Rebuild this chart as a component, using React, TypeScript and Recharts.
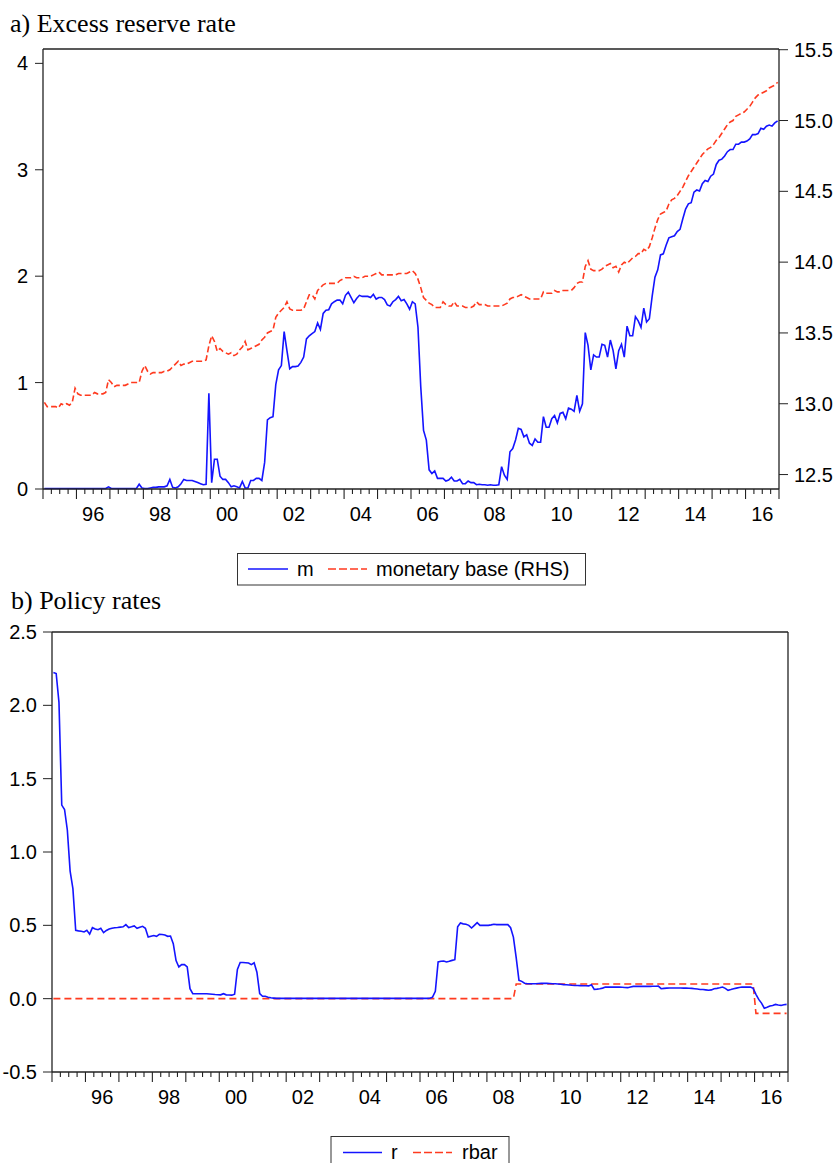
import React from 'react';
import { LineChart, Line, XAxis, YAxis, ReferenceLine } from 'recharts';

const FIRST_YEAR = 1995;
const LAST_YEAR = 2017;

// excess reserve rate, monthly 1995M1 - 2016M12 (left axis)
const m: number[] = [
  0.005, 0.005, 0.005, 0.005, 0.005, 0.005, 0.005, 0.005, 0.005, 0.005, 0.005, 0.005, // 1995
  0.005, 0.005, 0.005, 0.005, 0.005, 0.005, 0.005, 0.005, 0.005, 0.005, 0.005, 0.02, // 1996
  0.005, 0.005, 0.005, 0.005, 0.005, 0.005, 0.005, 0.005, 0.005, 0.005, 0.045, 0.01, // 1997
  0.005, 0.005, 0.01, 0.015, 0.015, 0.02, 0.02, 0.02, 0.03, 0.09, 0.015, 0.01, // 1998
  0.02, 0.05, 0.09, 0.08, 0.08, 0.08, 0.07, 0.06, 0.05, 0.04, 0.045, 0.9, // 1999
  0.06, 0.28, 0.28, 0.12, 0.09, 0.09, 0.06, 0.02, 0.03, 0.02, 0.01, 0.07, // 2000
  0.01, 0.01, 0.08, 0.08, 0.1, 0.1, 0.08, 0.25, 0.65, 0.67, 0.68, 0.98, // 2001
  1.12, 1.16, 1.48, 1.3, 1.13, 1.15, 1.15, 1.155, 1.19, 1.24, 1.41, 1.44, // 2002
  1.46, 1.48, 1.56, 1.5, 1.65, 1.68, 1.685, 1.74, 1.76, 1.775, 1.775, 1.74, // 2003
  1.82, 1.85, 1.8, 1.75, 1.79, 1.82, 1.81, 1.81, 1.81, 1.8, 1.83, 1.785, // 2004
  1.8, 1.8, 1.78, 1.73, 1.72, 1.76, 1.78, 1.81, 1.77, 1.78, 1.74, 1.69, // 2005
  1.76, 1.74, 1.52, 0.96, 0.55, 0.46, 0.18, 0.145, 0.17, 0.1, 0.1, 0.1, // 2006
  0.075, 0.085, 0.11, 0.075, 0.075, 0.09, 0.05, 0.05, 0.075, 0.06, 0.06, 0.04, // 2007
  0.045, 0.04, 0.04, 0.035, 0.04, 0.035, 0.035, 0.04, 0.21, 0.13, 0.09, 0.35, // 2008
  0.38, 0.46, 0.57, 0.56, 0.49, 0.51, 0.43, 0.41, 0.47, 0.44, 0.44, 0.68, // 2009
  0.58, 0.58, 0.66, 0.69, 0.62, 0.71, 0.72, 0.66, 0.76, 0.75, 0.73, 0.88, // 2010
  0.73, 0.8, 1.47, 1.35, 1.12, 1.26, 1.24, 1.24, 1.36, 1.35, 1.24, 1.4, // 2011
  1.3, 1.13, 1.3, 1.36, 1.24, 1.53, 1.44, 1.44, 1.62, 1.58, 1.52, 1.7, // 2012
  1.57, 1.6, 1.81, 1.99, 2.06, 2.2, 2.21, 2.29, 2.36, 2.37, 2.38, 2.42, // 2013
  2.44, 2.54, 2.63, 2.68, 2.69, 2.79, 2.81, 2.8, 2.87, 2.9, 2.89, 2.94, // 2014
  2.96, 3.05, 3.09, 3.1, 3.13, 3.17, 3.19, 3.19, 3.24, 3.24, 3.26, 3.26, // 2015
  3.27, 3.29, 3.33, 3.33, 3.34, 3.39, 3.38, 3.41, 3.42, 3.41, 3.44, 3.46, // 2016
];

// monetary base (RHS)
const monetaryBase: number[] = [
  13.01, 12.98, 12.98, 12.98, 12.98, 12.97, 13.0, 12.99, 13.0, 12.99, 13.01, 13.11, // 1995
  13.07, 13.06, 13.06, 13.06, 13.06, 13.06, 13.08, 13.07, 13.07, 13.07, 13.08, 13.17, // 1996
  13.15, 13.12, 13.13, 13.13, 13.13, 13.13, 13.14, 13.15, 13.15, 13.15, 13.15, 13.23, // 1997
  13.27, 13.23, 13.21, 13.22, 13.22, 13.22, 13.22, 13.23, 13.23, 13.24, 13.26, 13.28, // 1998
  13.3, 13.27, 13.28, 13.28, 13.29, 13.3, 13.3, 13.3, 13.3, 13.3, 13.31, 13.41, // 1999
  13.48, 13.44, 13.37, 13.39, 13.37, 13.36, 13.35, 13.36, 13.34, 13.35, 13.38, 13.4, // 2000
  13.44, 13.38, 13.39, 13.4, 13.41, 13.42, 13.45, 13.47, 13.5, 13.51, 13.52, 13.61, // 2001
  13.64, 13.66, 13.68, 13.72, 13.67, 13.66, 13.66, 13.66, 13.66, 13.67, 13.72, 13.77, // 2002
  13.77, 13.74, 13.8, 13.82, 13.84, 13.85, 13.85, 13.85, 13.85, 13.85, 13.87, 13.88, // 2003
  13.89, 13.89, 13.89, 13.9, 13.89, 13.89, 13.89, 13.9, 13.9, 13.9, 13.91, 13.92, // 2004
  13.93, 13.91, 13.91, 13.91, 13.91, 13.91, 13.91, 13.92, 13.92, 13.92, 13.92, 13.93, // 2005
  13.94, 13.92, 13.88, 13.82, 13.75, 13.73, 13.71, 13.7, 13.68, 13.68, 13.68, 13.72, // 2006
  13.7, 13.69, 13.69, 13.72, 13.69, 13.69, 13.69, 13.68, 13.68, 13.68, 13.69, 13.72, // 2007
  13.7, 13.7, 13.7, 13.69, 13.69, 13.69, 13.69, 13.69, 13.69, 13.7, 13.71, 13.74, // 2008
  13.75, 13.75, 13.76, 13.77, 13.76, 13.75, 13.74, 13.74, 13.74, 13.74, 13.74, 13.79, // 2009
  13.78, 13.78, 13.78, 13.8, 13.79, 13.79, 13.8, 13.8, 13.8, 13.8, 13.82, 13.85, // 2010
  13.86, 13.86, 13.97, 14.01, 13.95, 13.94, 13.94, 13.94, 13.95, 13.97, 13.98, 13.99, // 2011
  13.96, 13.97, 13.93, 13.98, 14.0, 13.99, 14.01, 14.03, 14.04, 14.06, 14.06, 14.09, // 2012
  14.08, 14.11, 14.17, 14.24, 14.3, 14.34, 14.35, 14.36, 14.41, 14.44, 14.45, 14.47, // 2013
  14.5, 14.53, 14.57, 14.61, 14.64, 14.67, 14.7, 14.73, 14.76, 14.78, 14.8, 14.81, // 2014
  14.83, 14.86, 14.88, 14.91, 14.94, 14.97, 14.99, 15.0, 15.03, 15.04, 15.05, 15.06, // 2015
  15.08, 15.1, 15.13, 15.16, 15.18, 15.19, 15.2, 15.21, 15.23, 15.24, 15.25, 15.27, // 2016
];

// policy rate r
const r: number[] = [
  2.224, 2.217, 2.02, 1.32, 1.29, 1.15, 0.87, 0.75, 0.466, 0.462, 0.46, 0.455, // 1995
  0.466, 0.44, 0.484, 0.475, 0.47, 0.48, 0.45, 0.465, 0.475, 0.48, 0.483, 0.485, // 1996
  0.488, 0.49, 0.505, 0.485, 0.49, 0.496, 0.48, 0.487, 0.493, 0.48, 0.42, 0.425, // 1997
  0.43, 0.425, 0.438, 0.437, 0.434, 0.425, 0.427, 0.375, 0.26, 0.216, 0.232, 0.232, // 1998
  0.216, 0.068, 0.034, 0.034, 0.034, 0.034, 0.034, 0.034, 0.032, 0.03, 0.028, 0.027, // 1999
  0.026, 0.034, 0.026, 0.025, 0.024, 0.03, 0.2, 0.247, 0.247, 0.245, 0.243, 0.232, // 2000
  0.245, 0.18, 0.034, 0.016, 0.016, 0.01, 0.006, 0.004, 0.002, 0.002, 0.002, 0.002, // 2001
  0.002, 0.002, 0.002, 0.002, 0.002, 0.002, 0.002, 0.002, 0.002, 0.002, 0.002, 0.002, // 2002
  0.002, 0.002, 0.002, 0.002, 0.002, 0.002, 0.002, 0.002, 0.002, 0.002, 0.002, 0.002, // 2003
  0.002, 0.002, 0.002, 0.002, 0.002, 0.002, 0.002, 0.002, 0.002, 0.002, 0.002, 0.002, // 2004
  0.002, 0.002, 0.002, 0.002, 0.002, 0.002, 0.002, 0.002, 0.002, 0.002, 0.002, 0.002, // 2005
  0.002, 0.002, 0.002, 0.003, 0.01, 0.05, 0.25, 0.255, 0.257, 0.25, 0.255, 0.261, // 2006
  0.266, 0.49, 0.516, 0.51, 0.507, 0.5, 0.482, 0.5, 0.518, 0.5, 0.5, 0.5, // 2007
  0.5, 0.503, 0.507, 0.505, 0.505, 0.505, 0.505, 0.505, 0.484, 0.42, 0.28, 0.125, // 2008
  0.118, 0.105, 0.102, 0.102, 0.102, 0.102, 0.103, 0.104, 0.104, 0.104, 0.103, 0.102, // 2009
  0.102, 0.1, 0.098, 0.096, 0.095, 0.093, 0.091, 0.09, 0.09, 0.089, 0.088, 0.088, // 2010
  0.087, 0.095, 0.063, 0.065, 0.068, 0.072, 0.079, 0.079, 0.079, 0.079, 0.079, 0.079, // 2011
  0.078, 0.076, 0.075, 0.08, 0.084, 0.084, 0.084, 0.084, 0.084, 0.084, 0.084, 0.085, // 2012
  0.085, 0.086, 0.068, 0.07, 0.072, 0.073, 0.073, 0.073, 0.073, 0.073, 0.072, 0.072, // 2013
  0.071, 0.07, 0.068, 0.066, 0.063, 0.062, 0.06, 0.057, 0.06, 0.068, 0.07, 0.074, // 2014
  0.079, 0.07, 0.057, 0.062, 0.068, 0.072, 0.076, 0.079, 0.079, 0.079, 0.079, 0.07, // 2015
  0.03, -0.005, -0.03, -0.065, -0.058, -0.05, -0.046, -0.039, -0.043, -0.046, -0.042, -0.039, // 2016
];

// policy rate target rbar
const rbar: number[] = [
  0, 0, 0, 0, 0, 0, 0, 0, 0, 0, 0, 0, // 1995
  0, 0, 0, 0, 0, 0, 0, 0, 0, 0, 0, 0, // 1996
  0, 0, 0, 0, 0, 0, 0, 0, 0, 0, 0, 0, // 1997
  0, 0, 0, 0, 0, 0, 0, 0, 0, 0, 0, 0, // 1998
  0, 0, 0, 0, 0, 0, 0, 0, 0, 0, 0, 0, // 1999
  0, 0, 0, 0, 0, 0, 0, 0, 0, 0, 0, 0, // 2000
  0, 0, 0, 0, 0, 0, 0, 0, 0, 0, 0, 0, // 2001
  0, 0, 0, 0, 0, 0, 0, 0, 0, 0, 0, 0, // 2002
  0, 0, 0, 0, 0, 0, 0, 0, 0, 0, 0, 0, // 2003
  0, 0, 0, 0, 0, 0, 0, 0, 0, 0, 0, 0, // 2004
  0, 0, 0, 0, 0, 0, 0, 0, 0, 0, 0, 0, // 2005
  0, 0, 0, 0, 0, 0, 0, 0, 0, 0, 0, 0, // 2006
  0, 0, 0, 0, 0, 0, 0, 0, 0, 0, 0, 0, // 2007
  0, 0, 0, 0, 0, 0, 0, 0, 0, 0, 0.1, 0.1, // 2008
  0.1, 0.1, 0.1, 0.1, 0.1, 0.1, 0.1, 0.1, 0.1, 0.1, 0.1, 0.1, // 2009
  0.1, 0.1, 0.1, 0.1, 0.1, 0.1, 0.1, 0.1, 0.1, 0.1, 0.1, 0.1, // 2010
  0.1, 0.1, 0.1, 0.1, 0.1, 0.1, 0.1, 0.1, 0.1, 0.1, 0.1, 0.1, // 2011
  0.1, 0.1, 0.1, 0.1, 0.1, 0.1, 0.1, 0.1, 0.1, 0.1, 0.1, 0.1, // 2012
  0.1, 0.1, 0.1, 0.1, 0.1, 0.1, 0.1, 0.1, 0.1, 0.1, 0.1, 0.1, // 2013
  0.1, 0.1, 0.1, 0.1, 0.1, 0.1, 0.1, 0.1, 0.1, 0.1, 0.1, 0.1, // 2014
  0.1, 0.1, 0.1, 0.1, 0.1, 0.1, 0.1, 0.1, 0.1, 0.1, 0.1, 0.1, // 2015
  -0.1, -0.1, -0.1, -0.1, -0.1, -0.1, -0.1, -0.1, -0.1, -0.1, -0.1, -0.1, // 2016
];

const labelYears = [1996, 1998, 2000, 2002, 2004, 2006, 2008, 2010, 2012, 2014, 2016];
const yearLabels = ['96', '98', '00', '02', '04', '06', '08', '10', '12', '14', '16'];
const mTicks = [0, 1, 2, 3, 4];
const baseTicks = [12.5, 13, 13.5, 14, 14.5, 15, 15.5];
const rateTicks = [-0.5, 0, 0.5, 1, 1.5, 2, 2.5];

const M_DOMAIN = [0, 4.135];
const BASE_DOMAIN = [12.398, 15.505];
const RATE_DOMAIN = [-0.5, 2.5];

// quarter tick marks along the time axis
const quarterTicks: number[] = [];
for (let q = 0; q <= (LAST_YEAR - FIRST_YEAR) * 4; q++) quarterTicks.push(FIRST_YEAR + q / 4);

// observations sit in the middle of their month
const monthPos = (i: number) => FIRST_YEAR + (i + 0.5) / 12;
const topData = m.map((v, i) => ({ t: monthPos(i), m: v, mb: monetaryBase[i] }));
const bottomData = r.map((v, i) => ({ t: monthPos(i), r: v, rbar: rbar[i] }));

const BLUE = '#1414ff';
const RED = '#ff3a1f';
const AXIS = '#222';
const SANS = '"Liberation Sans", Arial, sans-serif';
const SERIF = '"Liberation Serif", "Times New Roman", serif';
const TICK_FONT = 20;

const DateTick = (props: any) => {
  const { x, y, payload } = props;
  const v: number = payload.value;
  const year = Math.floor(v + 1e-9);
  const isYear = Math.abs(v - year) < 1e-6;
  const idx = labelYears.indexOf(year);
  const showLabel = idx >= 0 && Math.abs(v - year - 0.5) < 1e-6;
  return (
    <g>
      <line x1={x} x2={x} y1={y} y2={y + (isYear ? 10 : 5)} stroke={AXIS} strokeWidth={1.1} />
      {showLabel && (
        <text x={x} y={y + 32} textAnchor="middle" fontSize={TICK_FONT} fontFamily={SANS} fill="#000">
          {yearLabels[idx]}
        </text>
      )}
    </g>
  );
};

const tickStyle = { fontSize: TICK_FONT, fill: '#000', fontFamily: SANS };
const axisLine = { stroke: AXIS, strokeWidth: 1.3 };

const timeAxis = (
  <XAxis
    type="number"
    dataKey="t"
    domain={[FIRST_YEAR, LAST_YEAR]}
    ticks={quarterTicks}
    interval={0}
    tick={<DateTick />}
    tickLine={false}
    tickSize={0}
    tickMargin={0}
    height={30}
    axisLine={axisLine}
  />
);

const App = () => (
  <div style={{ position: 'absolute', left: 0, top: 0, width: 837, height: 1163, background: '#fff', overflow: 'hidden' }}>
    <div style={{ position: 'absolute', left: 0, top: 0 }}>
      <LineChart width={837} height={530} data={topData} margin={{ top: 49, right: 0, bottom: 11, left: 0 }}>
        {timeAxis}
        <YAxis
          yAxisId="left"
          type="number"
          domain={M_DOMAIN}
          ticks={mTicks}
          width={43}
          tickSize={8}
          tickMargin={7}
          tick={tickStyle}
          tickLine={{ stroke: AXIS }}
          axisLine={axisLine}
        />
        <YAxis
          yAxisId="right"
          orientation="right"
          type="number"
          domain={BASE_DOMAIN}
          ticks={baseTicks}
          tickFormatter={(v: number) => v.toFixed(1)}
          width={58}
          tickSize={9}
          tickMargin={6}
          tick={tickStyle}
          tickLine={{ stroke: AXIS }}
          axisLine={axisLine}
        />
        <ReferenceLine yAxisId="left" y={M_DOMAIN[1]} stroke={AXIS} strokeWidth={1.3} />
        <Line yAxisId="right" dataKey="mb" stroke={RED} strokeWidth={1.6} strokeDasharray="6 3" dot={false} isAnimationActive={false} />
        <Line yAxisId="left" dataKey="m" stroke={BLUE} strokeWidth={1.6} dot={false} isAnimationActive={false} />
      </LineChart>
    </div>

    <div style={{ position: 'absolute', left: 0, top: 590 }}>
      <LineChart width={837} height={530} data={bottomData} margin={{ top: 42, right: 0, bottom: 18, left: 0 }}>
        {timeAxis}
        <YAxis
          yAxisId="left"
          type="number"
          domain={RATE_DOMAIN}
          ticks={rateTicks}
          tickFormatter={(v: number) => v.toFixed(1)}
          width={52}
          tickSize={9}
          tickMargin={6}
          tick={tickStyle}
          tickLine={{ stroke: AXIS }}
          axisLine={axisLine}
        />
        <YAxis
          yAxisId="frame"
          orientation="right"
          type="number"
          domain={RATE_DOMAIN}
          width={49}
          tick={false}
          tickLine={false}
          axisLine={axisLine}
        />
        <ReferenceLine yAxisId="left" y={RATE_DOMAIN[1]} stroke={AXIS} strokeWidth={1.3} />
        <Line yAxisId="left" dataKey="rbar" stroke={RED} strokeWidth={1.6} strokeDasharray="7 4" dot={false} isAnimationActive={false} />
        <Line yAxisId="left" dataKey="r" stroke={BLUE} strokeWidth={1.6} dot={false} isAnimationActive={false} />
      </LineChart>
    </div>

    <svg width={837} height={1163} style={{ position: 'absolute', left: 0, top: 0, pointerEvents: 'none' }}>
      <text x={10} y={32} fontFamily={SERIF} fontSize={26} fill="#000">a) Excess reserve rate</text>
      <text x={11} y={609} fontFamily={SERIF} fontSize={26} fill="#000">b) Policy rates</text>

      <rect x={237.5} y={553.5} width={348} height={31.5} fill="#fff" stroke="#333" strokeWidth={1} />
      <line x1={248} x2={288} y1={569} y2={569} stroke={BLUE} strokeWidth={1.5} />
      <text x={297} y={576} fontFamily={SANS} fontSize={20} fill="#000">m</text>
      <line x1={328} x2={367} y1={569} y2={569} stroke={RED} strokeWidth={1.5} strokeDasharray="8 3" />
      <text x={376} y={576} fontFamily={SANS} fontSize={20} fill="#000">monetary base (RHS)</text>

      <rect x={331} y={1136.5} width={178} height={40} fill="#fff" stroke="#333" strokeWidth={1} />
      <line x1={343} x2={382} y1={1152.5} y2={1152.5} stroke={BLUE} strokeWidth={1.5} />
      <text x={391} y={1159} fontFamily={SANS} fontSize={20} fill="#000">r</text>
      <line x1={413} x2={452} y1={1152.5} y2={1152.5} stroke={RED} strokeWidth={1.5} strokeDasharray="8 3" />
      <text x={462} y={1159} fontFamily={SANS} fontSize={20} fill="#000">rbar</text>
    </svg>
  </div>
);

export default App;
